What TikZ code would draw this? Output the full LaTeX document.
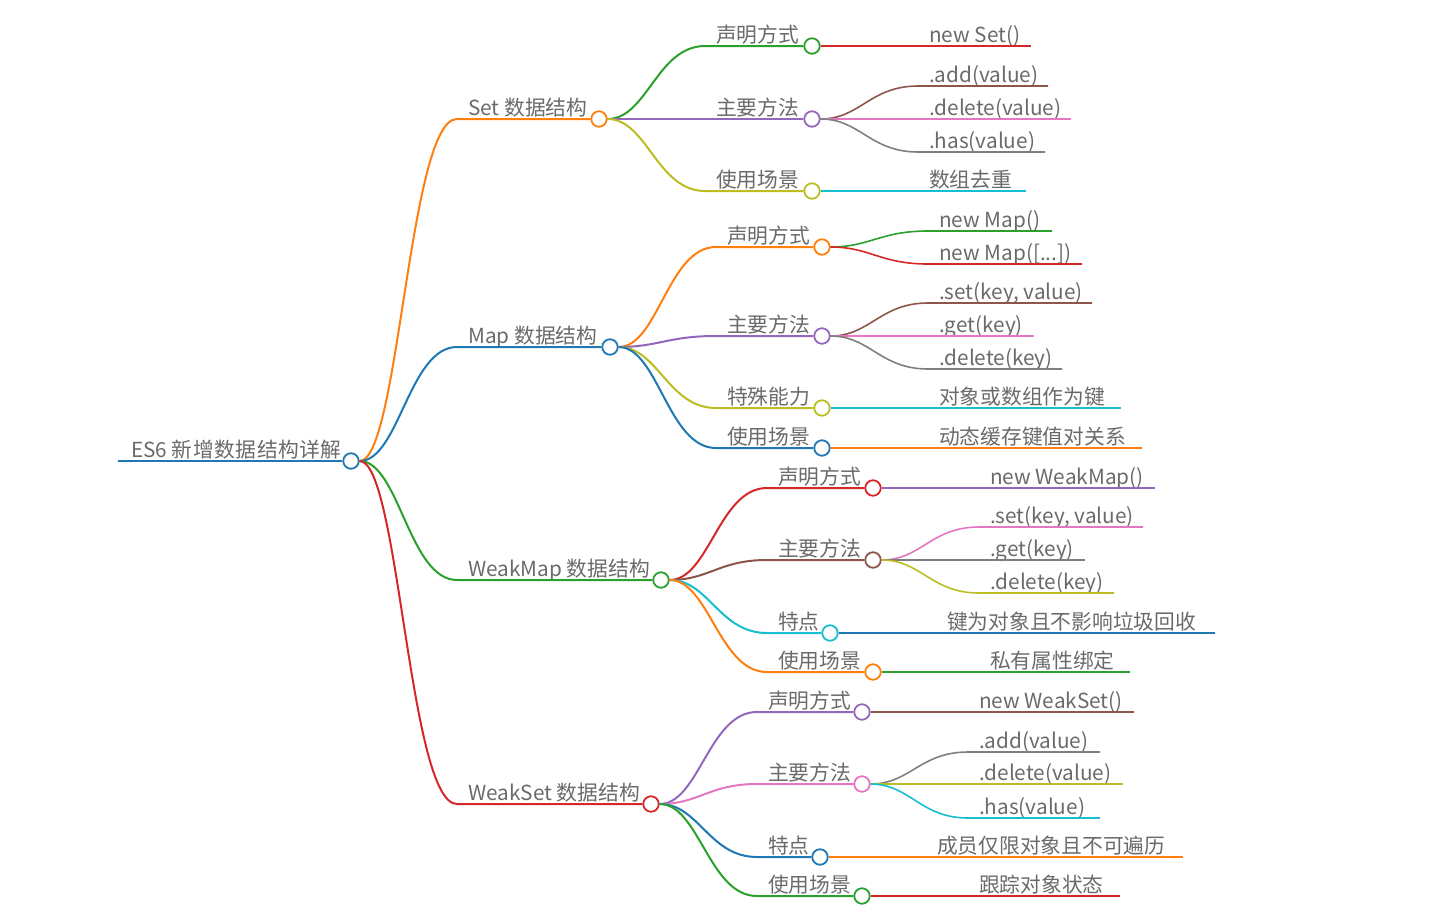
\documentclass[tikz,border=0pt]{standalone}
\usepackage{fontspec}
\setmainfont{Noto Sans CJK SC}
\usepackage{tikz}
\usetikzlibrary{positioning}
\definecolor{cBlue}{HTML}{1F77B4}
\definecolor{cOrange}{HTML}{FF7F0E}
\definecolor{cGreen}{HTML}{2CA02C}
\definecolor{cRed}{HTML}{D62728}
\definecolor{cPurple}{HTML}{9467BD}
\definecolor{cBrown}{HTML}{8C564B}
\definecolor{cPink}{HTML}{E377C2}
\definecolor{cGray}{HTML}{7F7F7F}
\definecolor{cOlive}{HTML}{BCBD22}
\definecolor{cCyan}{HTML}{17BECF}
\definecolor{ink}{HTML}{6A6A6A}
\tikzset{
    lbl/.style={anchor=base west, inner sep=0pt, text=ink, font=\fontsize{20.75pt}{24pt}\selectfont},
    knob/.style={circle, draw=#1, fill=white, line width=1.8pt, minimum size=15.5pt, inner sep=0pt},
    twig/.style={to path={.. controls +(48,0) and +(-48,0) .. (\tikztotarget)}},
    bough/.style={draw=#1, line width=2pt},
    leaf/.style={draw=#1, line width=1.6pt}
}

\begin{document}
\begin{tikzpicture}[x=1pt, y=-1pt]
    \useasboundingbox (0,0) rectangle (1434,918);
    % root
    \coordinate (root0) at (118,461);
    \node[knob=cBlue] at (351,461) (root) {};
    \node[lbl] at (131,457) (rootT) {ES6 {\addfontfeature{LetterSpace=2.5}新增数据结构详解}};
    \draw[bough=cBlue] (root0) -- (root);

    % first level
    \node[knob=cOrange] at (599,119) (set) {};
    \node[knob=cBlue] at (610,347) (map) {};
    \node[knob=cGreen] at (661,580) (wmap) {};
    \node[knob=cRed] at (651,804) (wset) {};
    \node[lbl] at (468,115) (setT) {Set 数据结构};
    \node[lbl] at (468,343) (mapT) {Map 数据结构};
    \node[lbl] at (468,576) (wmapT) {WeakMap 数据结构};
    \node[lbl] at (468,800) (wsetT) {WeakSet 数据结构};
    \coordinate (set0) at (457,119);
    \coordinate (map0) at (457,347);
    \coordinate (wmap0) at (457,580);
    \coordinate (wset0) at (457,804);
    \draw[bough=cOrange] (root) to[twig] (set0) -- (set);
    \draw[bough=cBlue] (root) to[twig] (map0) -- (map);
    \draw[bough=cGreen] (root) to[twig] (wmap0) -- (wmap);
    \draw[bough=cRed] (root) to[twig] (wset0) -- (wset);

    % Set
    \node[knob=cGreen] at (812,46) (setdecl) {};
    \node[knob=cPurple] at (812,119) (setmeth) {};
    \node[knob=cOlive] at (812,191) (setuse) {};
    \node[lbl] at (716,42) (setdeclT) {声明方式};
    \node[lbl] at (716,115) (setmethT) {主要方法};
    \node[lbl] at (716,187) (setuseT) {使用场景};
    \coordinate (setdecl0) at (705,46);
    \coordinate (setmeth0) at (705,119);
    \coordinate (setuse0) at (705,191);
    \draw[bough=cGreen] (set) to[twig] (setdecl0) -- (setdecl);
    \draw[bough=cPurple] (set) to[twig] (setmeth0) -- (setmeth);
    \draw[bough=cOlive] (set) to[twig] (setuse0) -- (setuse);
    \node[lbl] at (929,42) (snew) {new Set()};
    \node[lbl] at (929,82) (sadd) {.add(value)};
    \node[lbl] at (929,115) (sdel) {.delete(value)};
    \node[lbl] at (929,148) (shas) {.has(value)};
    \node[lbl] at (929,187) (suniq) {数组去重};
    \coordinate (snew0) at (918,46);   \coordinate (snew1) at (1031,46);
    \coordinate (sadd0) at (918,86);   \coordinate (sadd1) at (1048,86);
    \coordinate (sdel0) at (918,119);  \coordinate (sdel1) at (1071,119);
    \coordinate (shas0) at (918,152);  \coordinate (shas1) at (1045,152);
    \coordinate (suniq0) at (918,191); \coordinate (suniq1) at (1026,191);
    \draw[leaf=cRed] (setdecl) to[twig] (snew0) -- (snew1);
    \draw[leaf=cBrown] (setmeth) to[twig] (sadd0) -- (sadd1);
    \draw[leaf=cPink] (setmeth) to[twig] (sdel0) -- (sdel1);
    \draw[leaf=cGray] (setmeth) to[twig] (shas0) -- (shas1);
    \draw[leaf=cCyan] (setuse) to[twig] (suniq0) -- (suniq1);

    % Map
    \node[knob=cOrange] at (822,247) (mapdecl) {};
    \node[knob=cPurple] at (822,336) (mapmeth) {};
    \node[knob=cOlive] at (822,408) (mapkey) {};
    \node[knob=cBlue] at (822,448) (mapuse) {};
    \node[lbl] at (727,243) (mapdeclT) {声明方式};
    \node[lbl] at (727,332) (mapmethT) {主要方法};
    \node[lbl] at (727,404) (mapkeyT) {特殊能力};
    \node[lbl] at (727,444) (mapuseT) {使用场景};
    \coordinate (mapdecl0) at (716,247);
    \coordinate (mapmeth0) at (716,336);
    \coordinate (mapkey0) at (716,408);
    \coordinate (mapuse0) at (716,448);
    \draw[bough=cOrange] (map) to[twig] (mapdecl0) -- (mapdecl);
    \draw[bough=cPurple] (map) to[twig] (mapmeth0) -- (mapmeth);
    \draw[bough=cOlive] (map) to[twig] (mapkey0) -- (mapkey);
    \draw[bough=cBlue] (map) to[twig] (mapuse0) -- (mapuse);
    \node[lbl] at (939,227) (mnew) {new Map()};
    \node[lbl] at (939,260) (mnewa) {new Map([...])};
    \node[lbl] at (939,299) (mset) {.set(key, value)};
    \node[lbl] at (939,332) (mget) {.get(key)};
    \node[lbl] at (939,365) (mdel) {.delete(key)};
    \node[lbl] at (939,404) (mobj) {对象或数组作为键};
    \node[lbl] at (939,444) (mcache) {动态缓存键值对关系};
    \coordinate (mnew0) at (928,231);   \coordinate (mnew1) at (1052,231);
    \coordinate (mnewa0) at (928,264);  \coordinate (mnewa1) at (1082,264);
    \coordinate (mset0) at (928,303);   \coordinate (mset1) at (1092,303);
    \coordinate (mget0) at (928,336);   \coordinate (mget1) at (1034,336);
    \coordinate (mdel0) at (928,369);   \coordinate (mdel1) at (1062,369);
    \coordinate (mobj0) at (928,408);   \coordinate (mobj1) at (1121,408);
    \coordinate (mcache0) at (928,448); \coordinate (mcache1) at (1142,448);
    \draw[leaf=cGreen] (mapdecl) to[twig] (mnew0) -- (mnew1);
    \draw[leaf=cRed] (mapdecl) to[twig] (mnewa0) -- (mnewa1);
    \draw[leaf=cBrown] (mapmeth) to[twig] (mset0) -- (mset1);
    \draw[leaf=cPink] (mapmeth) to[twig] (mget0) -- (mget1);
    \draw[leaf=cGray] (mapmeth) to[twig] (mdel0) -- (mdel1);
    \draw[leaf=cCyan] (mapkey) to[twig] (mobj0) -- (mobj1);
    \draw[leaf=cOrange] (mapuse) to[twig] (mcache0) -- (mcache1);

    % WeakMap
    \node[knob=cRed] at (873,488) (wmdecl) {};
    \node[knob=cBrown] at (873,560) (wmmeth) {};
    \node[knob=cCyan] at (830,633) (wmfeat) {};
    \node[knob=cOrange] at (873,672) (wmuse) {};
    \node[lbl] at (778,484) (wmdeclT) {声明方式};
    \node[lbl] at (778,556) (wmmethT) {主要方法};
    \node[lbl] at (778,629) (wmfeatT) {特点};
    \node[lbl] at (778,668) (wmuseT) {使用场景};
    \coordinate (wmdecl0) at (767,488);
    \coordinate (wmmeth0) at (767,560);
    \coordinate (wmfeat0) at (767,633);
    \coordinate (wmuse0) at (767,672);
    \draw[bough=cRed] (wmap) to[twig] (wmdecl0) -- (wmdecl);
    \draw[bough=cBrown] (wmap) to[twig] (wmmeth0) -- (wmmeth);
    \draw[bough=cCyan] (wmap) to[twig] (wmfeat0) -- (wmfeat);
    \draw[bough=cOrange] (wmap) to[twig] (wmuse0) -- (wmuse);
    \node[lbl] at (990,484) (wmnew) {new WeakMap()};
    \node[lbl] at (990,523) (wmset) {.set(key, value)};
    \node[lbl] at (990,556) (wmget) {.get(key)};
    \node[lbl] at (990,589) (wmdel) {.delete(key)};
    \node[lbl] at (947,629) (wmgc) {键为对象且不影响垃圾回收};
    \node[lbl] at (990,668) (wmpriv) {私有属性绑定};
    \coordinate (wmnew0) at (979,488);  \coordinate (wmnew1) at (1155,488);
    \coordinate (wmset0) at (979,527);  \coordinate (wmset1) at (1143,527);
    \coordinate (wmget0) at (979,560);  \coordinate (wmget1) at (1085,560);
    \coordinate (wmdel0) at (979,593);  \coordinate (wmdel1) at (1114,593);
    \coordinate (wmgc0) at (936,633);   \coordinate (wmgc1) at (1215,633);
    \coordinate (wmpriv0) at (979,672); \coordinate (wmpriv1) at (1130,672);
    \draw[leaf=cPurple] (wmdecl) to[twig] (wmnew0) -- (wmnew1);
    \draw[leaf=cPink] (wmmeth) to[twig] (wmset0) -- (wmset1);
    \draw[leaf=cGray] (wmmeth) to[twig] (wmget0) -- (wmget1);
    \draw[leaf=cOlive] (wmmeth) to[twig] (wmdel0) -- (wmdel1);
    \draw[leaf=cBlue] (wmfeat) to[twig] (wmgc0) -- (wmgc1);
    \draw[leaf=cGreen] (wmuse) to[twig] (wmpriv0) -- (wmpriv1);

    % WeakSet
    \node[knob=cPurple] at (862,712) (wsdecl) {};
    \node[knob=cPink] at (862,784) (wsmeth) {};
    \node[knob=cBlue] at (820,857) (wsfeat) {};
    \node[knob=cGreen] at (862,896) (wsuse) {};
    \node[lbl] at (768,708) (wsdeclT) {声明方式};
    \node[lbl] at (768,780) (wsmethT) {主要方法};
    \node[lbl] at (768,853) (wsfeatT) {特点};
    \node[lbl] at (768,892) (wsuseT) {使用场景};
    \coordinate (wsdecl0) at (757,712);
    \coordinate (wsmeth0) at (757,784);
    \coordinate (wsfeat0) at (757,857);
    \coordinate (wsuse0) at (757,896);
    \draw[bough=cPurple] (wset) to[twig] (wsdecl0) -- (wsdecl);
    \draw[bough=cPink] (wset) to[twig] (wsmeth0) -- (wsmeth);
    \draw[bough=cBlue] (wset) to[twig] (wsfeat0) -- (wsfeat);
    \draw[bough=cGreen] (wset) to[twig] (wsuse0) -- (wsuse);
    \node[lbl] at (979,708) (wsnew) {new WeakSet()};
    \node[lbl] at (979,748) (wsadd) {.add(value)};
    \node[lbl] at (979,780) (wsdel) {.delete(value)};
    \node[lbl] at (979,814) (wshas) {.has(value)};
    \node[lbl] at (937,853) (wsobj) {成员仅限对象且不可遍历};
    \node[lbl] at (979,892) (wstrack) {跟踪对象状态};
    \coordinate (wsnew0) at (968,712);   \coordinate (wsnew1) at (1134,712);
    \coordinate (wsadd0) at (968,752);   \coordinate (wsadd1) at (1100,752);
    \coordinate (wsdel0) at (968,784);   \coordinate (wsdel1) at (1123,784);
    \coordinate (wshas0) at (968,818);   \coordinate (wshas1) at (1100,818);
    \coordinate (wsobj0) at (926,857);   \coordinate (wsobj1) at (1183,857);
    \coordinate (wstrack0) at (968,896); \coordinate (wstrack1) at (1120,896);
    \draw[leaf=cBrown] (wsdecl) to[twig] (wsnew0) -- (wsnew1);
    \draw[leaf=cGray] (wsmeth) to[twig] (wsadd0) -- (wsadd1);
    \draw[leaf=cOlive] (wsmeth) to[twig] (wsdel0) -- (wsdel1);
    \draw[leaf=cCyan] (wsmeth) to[twig] (wshas0) -- (wshas1);
    \draw[leaf=cOrange] (wsfeat) to[twig] (wsobj0) -- (wsobj1);
    \draw[leaf=cRed] (wsuse) to[twig] (wstrack0) -- (wstrack1);
\end{tikzpicture}
\end{document}
